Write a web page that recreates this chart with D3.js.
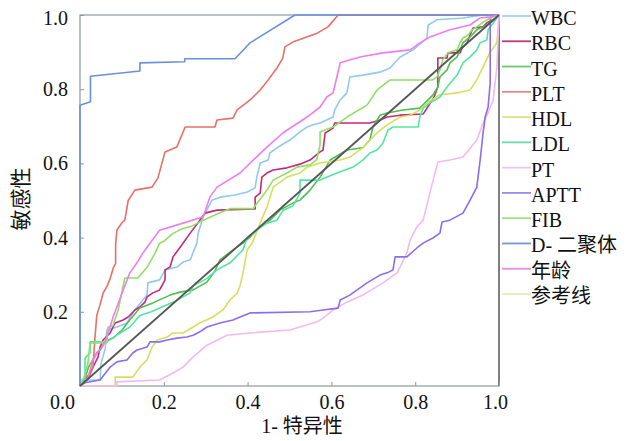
<!DOCTYPE html>
<html lang="zh">
<head>
<meta charset="UTF-8">
<title>ROC</title>
<script src="https://cdn.jsdelivr.net/npm/d3@7"></script>
<style>
  body { margin: 0; background: #fff; }
  svg text { font-family: "Liberation Serif", "Times New Roman", "Noto Sans CJK SC", serif; fill: #111; }
</style>
</head>
<body>
<div id="chart"></div>
<script>
// series names (legend order) and the curves as [1-specificity, sensitivity]
var names = ["WBC", "RBC", "TG", "PLT", "HDL", "LDL", "PT", "APTT", "FIB", "D- 二聚体", "年龄", "参考线"]

var wbc = [[0,0],[0,0.016],[0.048,0.016],[0.05,0.06],[0.06,0.1],[0.064,0.151],[0.088,0.159],[0.112,0.17],[0.131,0.205],[0.16,0.245],[0.162,0.278],[0.19,0.286],[0.203,0.313],[0.232,0.321],[0.246,0.334],[0.263,0.34],[0.279,0.385],[0.282,0.412],[0.294,0.456],[0.315,0.501],[0.334,0.509],[0.37,0.515],[0.399,0.523],[0.418,0.534],[0.422,0.563],[0.43,0.601],[0.449,0.609],[0.453,0.628],[0.477,0.647],[0.501,0.663],[0.525,0.685],[0.542,0.698],[0.556,0.704],[0.573,0.709],[0.604,0.725],[0.608,0.744],[0.621,0.771],[0.637,0.79],[0.644,0.833],[0.675,0.838],[0.716,0.846],[0.74,0.857],[0.764,0.887],[0.795,0.906],[0.828,0.938],[0.831,0.973],[0.852,0.987],[0.914,0.992],[0.962,1],[1,1]]

var rbc = [[0,0],[0.012,0.016],[0.024,0.035],[0.036,0.062],[0.043,0.078],[0.048,0.105],[0.055,0.124],[0.072,0.143],[0.079,0.159],[0.084,0.17],[0.103,0.178],[0.115,0.186],[0.131,0.205],[0.143,0.213],[0.155,0.226],[0.16,0.24],[0.174,0.251],[0.19,0.259],[0.203,0.286],[0.203,0.313],[0.215,0.321],[0.222,0.348],[0.239,0.374],[0.263,0.412],[0.286,0.447],[0.298,0.466],[0.327,0.474],[0.418,0.477],[0.418,0.509],[0.43,0.52],[0.434,0.563],[0.446,0.574],[0.461,0.582],[0.494,0.588],[0.525,0.598],[0.549,0.609],[0.573,0.631],[0.58,0.636],[0.585,0.682],[0.604,0.695],[0.608,0.709],[0.692,0.709],[0.716,0.717],[0.733,0.725],[0.764,0.73],[0.819,0.733],[0.845,0.779],[0.854,0.806],[0.854,0.884],[0.876,0.884],[0.878,0.898],[0.907,0.898],[0.912,0.911],[0.924,0.925],[0.931,0.946],[0.938,0.965],[0.962,0.968],[0.971,0.979],[0.986,0.987],[1,1]]

var tg = [[0,0],[0.012,0.02],[0.02,0.05],[0.03,0.07],[0.04,0.09],[0.05,0.1],[0.06,0.12],[0.08,0.13],[0.1,0.15],[0.12,0.18],[0.143,0.21],[0.174,0.224],[0.215,0.245],[0.239,0.253],[0.27,0.259],[0.303,0.28],[0.322,0.31],[0.334,0.34],[0.365,0.367],[0.389,0.385],[0.406,0.402],[0.43,0.429],[0.446,0.439],[0.461,0.455],[0.477,0.474],[0.508,0.493],[0.525,0.501],[0.549,0.528],[0.573,0.563],[0.597,0.609],[0.637,0.636],[0.675,0.642],[0.692,0.663],[0.699,0.698],[0.716,0.73],[0.733,0.736],[0.771,0.744],[0.811,0.749],[0.842,0.784],[0.854,0.806],[0.859,0.833],[0.876,0.852],[0.883,0.871],[0.9,0.887],[0.914,0.925],[0.931,0.941],[0.947,0.96],[0.962,0.968],[0.978,0.978],[1,1]]

var plt = [[0,0],[0.02,0.02],[0.031,0.05],[0.035,0.12],[0.04,0.19],[0.048,0.22],[0.055,0.25],[0.065,0.27],[0.072,0.29],[0.08,0.32],[0.085,0.33],[0.085,0.38],[0.088,0.42],[0.1,0.44],[0.107,0.447],[0.115,0.5],[0.131,0.528],[0.172,0.536],[0.186,0.561],[0.203,0.631],[0.231,0.644],[0.251,0.698],[0.322,0.698],[0.327,0.717],[0.365,0.722],[0.375,0.744],[0.406,0.771],[0.43,0.798],[0.449,0.825],[0.47,0.857],[0.484,0.884],[0.489,0.914],[0.508,0.927],[0.566,0.951],[0.592,0.968],[0.616,1],[1,1]]

var hdl = [[0,0],[0.084,0],[0.084,0.024],[0.126,0.024],[0.143,0.051],[0.16,0.07],[0.172,0.105],[0.184,0.124],[0.208,0.132],[0.222,0.143],[0.246,0.143],[0.27,0.159],[0.286,0.17],[0.317,0.186],[0.341,0.205],[0.358,0.232],[0.375,0.25],[0.382,0.27],[0.389,0.305],[0.399,0.367],[0.411,0.385],[0.43,0.439],[0.446,0.482],[0.461,0.536],[0.494,0.563],[0.525,0.574],[0.542,0.59],[0.573,0.601],[0.621,0.609],[0.644,0.617],[0.675,0.642],[0.692,0.663],[0.709,0.682],[0.733,0.704],[0.764,0.725],[0.788,0.73],[0.811,0.744],[0.828,0.763],[0.859,0.785],[0.9,0.79],[0.931,0.798],[0.947,0.825],[0.962,0.86],[0.978,0.898],[0.995,0.925],[1,1]]

var ldl = [[0,0],[0.012,0.008],[0.012,0.075],[0.024,0.089],[0.024,0.119],[0.064,0.119],[0.088,0.137],[0.119,0.159],[0.143,0.19],[0.17,0.2],[0.2,0.215],[0.23,0.23],[0.263,0.251],[0.27,0.27],[0.303,0.29],[0.327,0.313],[0.358,0.332],[0.389,0.367],[0.399,0.4],[0.422,0.42],[0.446,0.439],[0.47,0.447],[0.485,0.474],[0.508,0.485],[0.525,0.52],[0.525,0.555],[0.573,0.555],[0.613,0.574],[0.652,0.59],[0.675,0.609],[0.692,0.628],[0.709,0.636],[0.723,0.655],[0.735,0.69],[0.747,0.698],[0.807,0.698],[0.811,0.725],[0.819,0.749],[0.835,0.763],[0.859,0.779],[0.876,0.806],[0.9,0.838],[0.914,0.871],[0.931,0.887],[0.947,0.906],[0.955,0.925],[0.971,0.933],[0.974,0.96],[0.986,0.978],[1,1]]

var pt = [[0,0],[0.088,0],[0.088,0.011],[0.19,0.016],[0.222,0.035],[0.246,0.051],[0.267,0.075],[0.303,0.11],[0.351,0.137],[0.406,0.143],[0.501,0.151],[0.566,0.173],[0.58,0.183],[0.604,0.205],[0.637,0.226],[0.675,0.245],[0.723,0.278],[0.757,0.305],[0.78,0.358],[0.788,0.394],[0.804,0.429],[0.819,0.447],[0.835,0.52],[0.854,0.604],[0.883,0.609],[0.914,0.617],[0.947,0.663],[0.962,0.709],[0.974,0.736],[0.986,0.771],[0.995,0.86],[1,1]]

var aptt = [[0,0],[0.007,0.008],[0.048,0.016],[0.072,0.051],[0.088,0.065],[0.112,0.07],[0.126,0.089],[0.136,0.097],[0.16,0.105],[0.167,0.119],[0.19,0.119],[0.208,0.124],[0.231,0.129],[0.255,0.132],[0.27,0.137],[0.286,0.146],[0.303,0.159],[0.334,0.17],[0.365,0.178],[0.382,0.186],[0.406,0.197],[0.549,0.2],[0.58,0.205],[0.616,0.21],[0.621,0.232],[0.644,0.245],[0.685,0.278],[0.716,0.299],[0.733,0.305],[0.747,0.313],[0.752,0.348],[0.78,0.348],[0.804,0.372],[0.819,0.385],[0.842,0.399],[0.859,0.412],[0.864,0.442],[0.883,0.447],[0.914,0.466],[0.931,0.501],[0.947,0.536],[0.955,0.609],[0.962,0.682],[0.967,0.725],[0.974,0.752],[0.979,0.817],[0.979,0.987],[0.983,1],[1,1]]

var fib = [[0,0],[0.012,0.03],[0.019,0.062],[0.024,0.116],[0.064,0.116],[0.067,0.159],[0.079,0.164],[0.091,0.205],[0.107,0.291],[0.138,0.291],[0.16,0.32],[0.179,0.358],[0.19,0.385],[0.2,0.39],[0.22,0.41],[0.246,0.425],[0.263,0.429],[0.294,0.447],[0.33,0.465],[0.358,0.478],[0.413,0.478],[0.446,0.528],[0.461,0.555],[0.494,0.574],[0.518,0.59],[0.549,0.596],[0.565,0.61],[0.573,0.65],[0.573,0.685],[0.604,0.698],[0.637,0.725],[0.685,0.757],[0.709,0.798],[0.74,0.825],[0.842,0.825],[0.852,0.833],[0.859,0.852],[0.866,0.879],[0.878,0.898],[0.9,0.906],[0.907,0.925],[0.914,0.938],[0.926,0.946],[0.936,0.96],[0.947,0.968],[0.959,0.978],[0.971,0.987],[0.986,0.995],[1,1]]

var dDimer = [[0,0],[0,0.757],[0.025,0.766],[0.025,0.835],[0.143,0.849],[0.143,0.871],[0.25,0.874],[0.25,0.882],[0.37,0.882],[0.406,0.925],[0.513,1],[1,1]]

var age = [[0,0],[0.01,0.01],[0.019,0.024],[0.031,0.07],[0.041,0.089],[0.053,0.105],[0.064,0.132],[0.072,0.159],[0.079,0.186],[0.088,0.213],[0.103,0.259],[0.119,0.305],[0.136,0.332],[0.15,0.358],[0.167,0.385],[0.19,0.42],[0.246,0.439],[0.294,0.456],[0.31,0.509],[0.327,0.536],[0.382,0.574],[0.406,0.601],[0.446,0.644],[0.484,0.682],[0.542,0.725],[0.573,0.752],[0.589,0.779],[0.604,0.79],[0.613,0.833],[0.621,0.871],[0.668,0.887],[0.723,0.898],[0.788,0.906],[0.804,0.919],[0.835,0.941],[0.883,0.96],[0.931,0.973],[0.955,0.992],[0.978,0.995],[1,1]]

var refLine = [[0,0],[1,1]]

var xTicks = [0, 0.2, 0.4, 0.6, 0.8, 1.0]
var yTicks = [0.2, 0.4, 0.6, 0.8, 1.0]

// colours: curve colour and the (paler) legend swatch colour
var lineColors = ["#8fcaf0", "#c42a78", "#4fbf4f", "#ea6f66", "#d6df5e", "#52e6a2", "#f3b9f0", "#8a6df0", "#8fe063", "#6a8fe0", "#f07cf0", "#555555"]
var swatchColors = ["#a3d3ef", "#b93a72", "#6acb6a", "#e08a88", "#e0e184", "#6cdcab", "#f1c4f0", "#9b8aec", "#a3de84", "#7c93d4", "#e78ae6", "#e1ebb4"]

var curves = [wbc, rbc, tg, plt, hdl, ldl, pt, aptt, fib, dDimer, age, refLine]

var W = 637, H = 441
var margin = { top: 15, right: 138, bottom: 55, left: 80 }

var svg = d3.select("#chart").append("svg")
    .attr("width", W)
    .attr("height", H)

var x = d3.scaleLinear().domain([0, 1]).range([margin.left, W - margin.right])
var y = d3.scaleLinear().domain([0, 1]).range([H - margin.bottom, margin.top])

// plot frame
svg.append("rect")
    .attr("x", x(0)).attr("y", y(1))
    .attr("width", x(1) - x(0)).attr("height", y(0) - y(1))
    .attr("fill", "none")
    .attr("stroke", "#8c9a9a")
    .attr("stroke-width", 1.2)
svg.append("line")
    .attr("x1", x(1)).attr("x2", x(1)).attr("y1", y(1)).attr("y2", y(0))
    .attr("stroke", "#555").attr("stroke-width", 1.2)

// axes, ticks point inward
var xAxis = svg.append("g")
    .attr("transform", "translate(0," + y(0) + ")")
    .call(d3.axisBottom(x).tickValues(xTicks).tickFormat(d3.format(".1f")).tickSizeInner(-4).tickSizeOuter(0).tickPadding(9))
var yAxis = svg.append("g")
    .attr("transform", "translate(" + x(0) + ",0)")
    .call(d3.axisLeft(y).tickValues(yTicks).tickFormat(d3.format(".1f")).tickSizeInner(-4).tickSizeOuter(0).tickPadding(12))

xAxis.select(".domain").remove()
yAxis.select(".domain").remove()
svg.selectAll(".tick line").attr("stroke", "#8c9a9a")
svg.selectAll(".tick text").attr("font-size", 20).attr("font-family", "Liberation Serif, serif").attr("fill", "#111")
// end labels sit a little inside, as in the original
xAxis.selectAll(".tick text").attr("dx", function (d) { return d === 0 ? -18 : (d === 1 ? -4 : 0) })
yAxis.selectAll(".tick text").attr("dy", function (d) { return d === 1 ? "0.47em" : "0.32em" })

// curves
var line = d3.line()
    .x(function (d) { return x(d[0]) })
    .y(function (d) { return y(d[1]) })

svg.append("g").selectAll("path")
    .data(curves)
    .enter()
    .append("path")
    .attr("d", line)
    .attr("fill", "none")
    .attr("stroke", function (d, i) { return lineColors[i] })
    .attr("stroke-width", function (d, i) { return i === curves.length - 1 ? 1.8 : 1.6 })
    .attr("stroke-linejoin", "round")

// legend
var legend = svg.append("g")
var rowY = d3.scalePoint().domain(names).range([18, 296])
names.forEach(function (n, i) {
    var yy = rowY(n)
    legend.append("line")
        .attr("x1", 502).attr("x2", 531)
        .attr("y1", yy - 2).attr("y2", yy - 2)
        .attr("stroke", swatchColors[i])
        .attr("stroke-width", 1.8)
    legend.append("text")
        .attr("x", 531).attr("y", yy)
        .attr("dy", "0.35em")
        .attr("font-size", 20)
        .text(n)
})

// axis titles
svg.append("text")
    .attr("x", 302).attr("y", 426)
    .attr("dy", "0.35em")
    .attr("text-anchor", "middle")
    .attr("font-size", 20)
    .text("1- 特异性")
svg.append("text")
    .attr("transform", "translate(21,199) rotate(-90)")
    .attr("dy", "0.35em")
    .attr("text-anchor", "middle")
    .attr("font-size", 21)
    .text("敏感性")
</script>
</body>
</html>
